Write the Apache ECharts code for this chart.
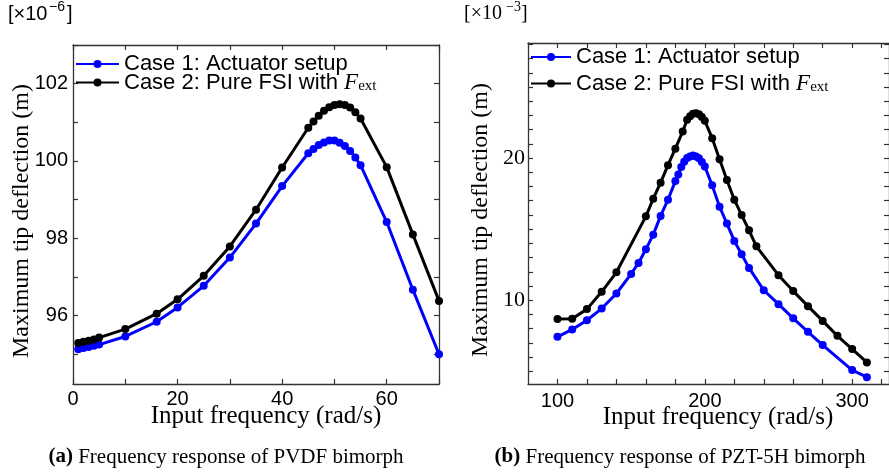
<!DOCTYPE html>
<html><head><meta charset="utf-8">
<script src="https://cdn.jsdelivr.net/npm/echarts@6/dist/echarts.min.js"></script>
<style>html,body{margin:0;padding:0;background:#fff}#c{width:889px;height:475px}</style>
</head><body><div id="c"></div>
<script>
// ---------- data ----------
const NAME1 = 'Case 1: Actuator setup';
const NAME2 = 'Case 2: Pure FSI with F_ext';

// (a) PVDF bimorph  [x1e-6 m]
const freqA  = [1,2,3,4,5,10,16,20,25,30,35,40,45,46,47,48,49,50,51,52,53,54,55,60,65,70];
const case1A = [95.13,95.16,95.19,95.22,95.25,95.46,95.84,96.21,96.77,97.50,98.38,99.35,
                100.20,100.31,100.41,100.48,100.53,100.53,100.47,100.39,100.26,100.09,99.89,
                98.42,96.67,95.00];
const case2A = [95.29,95.32,95.35,95.38,95.43,95.65,96.05,96.42,97.03,97.79,98.74,99.83,
                100.86,101.02,101.17,101.30,101.39,101.45,101.47,101.45,101.38,101.26,101.10,
                99.84,98.10,96.38];

// (b) PZT-5H bimorph  [x1e-3 m]
const freqB1 = [100,110,120,130,140,150,155,160,165,170,175,180,182,184,186,188,190,192,194,196,198,200,
                205,210,215,220,225,230,240,250,260,270,280,300,310];
const case1B = [7.42,7.94,8.59,9.41,10.47,11.85,12.62,13.58,14.61,15.93,17.07,18.38,
                18.85,19.37,19.75,20.00,20.12,20.18,20.12,19.98,19.72,19.40,
                18.08,16.58,15.39,14.17,13.23,12.27,10.70,9.72,8.72,7.77,6.84,5.08,4.58];
const freqB2 = [100,110,120,130,140,160,165,170,175,180,185,188,190,192,194,196,198,200,
                205,210,215,220,225,230,235,250,260,270,280,290,300,310];
const case2B = [8.67,8.70,9.37,10.59,11.96,15.90,17.14,18.27,19.50,20.66,21.87,
                22.70,22.95,23.12,23.16,23.08,22.90,22.62,
                21.40,19.92,18.46,17.07,15.99,14.92,13.79,11.76,10.64,9.58,8.54,7.49,6.56,5.62];

// ticks / labels
const ticksAx  = [0,10,20,30,40,50,60,70];
const labelsAx = [0,20,40,60];
const ticksAy  = [95,96,97,98,99,100,101,102,103];
const labelsAy = [96,98,100,102];
const ticksBx  = [100,120,140,160,180,200,220,240,260,280,300,320];
const labelsBx = [100,200,300];
const ticksBy  = [5,6,7,8,9,10,11,12,13,14,15,16,17,18,19,20,21,22,23,24,25,26,27,28];
const labelsBy = [10,20];

// ---------- chart ----------
const SANS = 'Liberation Sans';
const SERIF = 'Liberation Serif';
const FRAME = '#333';
const BLUE = '#0000ff', BLACK = '#000000';

function pairs(xs, ys){ return xs.map((x,i)=>[x, ys[i]]); }

function axisPair(kind, grid, min, max, ticks, labels, labelFont, labelSize, labelMargin){
  const base = {
    type:'value', gridIndex:grid, min:min, max:max, scale:true,
    splitLine:{show:false},
    axisLine:{show:true, onZero:false, lineStyle:{color:FRAME, width:1.3}},
    axisTick:{show:true, inside:true, length:5, customValues:ticks, lineStyle:{color:FRAME, width:1.2}},
  };
  const main = Object.assign({}, base, {
    position: kind==='x' ? 'bottom' : 'left',
    axisLabel:{show:true, customValues:labels, fontFamily:labelFont, fontSize:labelSize, color:'#000', margin:labelMargin}
  });
  const mirror = Object.assign({}, base, {
    position: kind==='x' ? 'top' : 'right',
    axisLabel:{show:false}
  });
  return [main, mirror];
}

const [xa0, xa1] = axisPair('x', 0, 0, 70, ticksAx, labelsAx, SANS, 20, 5);
const [ya0, ya1] = axisPair('y', 0, 94.23, 103.0, ticksAy, labelsAy, SANS, 20, 5);
const [xb0, xb1] = axisPair('x', 1, 80, 325, ticksBx, labelsBx, SANS, 20, 7);
const [yb0, yb1] = axisPair('y', 1, 4.1, 28.1, ticksBy, labelsBy, SERIF, 22, 3);

function lineSeries(name, color, xi, yi, data){
  return {name:name, type:'line', xAxisIndex:xi, yAxisIndex:yi, data:data,
    color:color, symbol:'circle', symbolSize:8, showSymbol:true,
    lineStyle:{color:color, width:3}, itemStyle:{color:color}, animation:false, clip:false};
}

const legendRich = {
  t:{fontFamily:SANS, fontSize:22, color:'#000', lineHeight:22},
  f:{fontFamily:SERIF, fontStyle:'italic', fontSize:23, color:'#000', lineHeight:22},
  s:{fontFamily:SERIF, fontSize:15, color:'#000', lineHeight:4, verticalAlign:'bottom'}
};
function legendFmt(n){ return n===NAME2 ? '{t|Case 2: Pure FSI with }{f|F}{s|ext}' : '{t|'+n+'}'; }

const option = {
  backgroundColor:'#fff',
  animation:false,
  grid:[
    {left:73, top:45, width:366, height:339},
    {left:528, top:43, width:362, height:341}
  ],
  xAxis:[xa0, xa1, xb0, xb1],
  yAxis:[ya0, ya1, yb0, yb1],
  legend:[
    {orient:'vertical', left:75, top:53, padding:0, itemWidth:43, itemHeight:10, itemGap:-4,
     data:[NAME1, NAME2], formatter:legendFmt, textStyle:{rich:legendRich}, selectedMode:false},
    {orient:'vertical', left:530, top:46, padding:0, itemWidth:40, itemHeight:10, itemGap:4,
     data:[NAME1, NAME2], formatter:legendFmt, textStyle:{rich:legendRich}, selectedMode:false}
  ],
  series:[
    lineSeries(NAME1, BLUE, 0, 0, pairs(freqA, case1A)),
    lineSeries(NAME2, BLACK, 0, 0, pairs(freqA, case2A)),
    lineSeries(NAME1, BLUE, 2, 2, pairs(freqB1, case1B)),
    lineSeries(NAME2, BLACK, 2, 2, pairs(freqB2, case2B))
  ],
  graphic:{elements:[
    // multipliers
    {type:'text', x:8, y:14, style:{text:'[×10', fontFamily:SANS, fontSize:20, fill:'#000', align:'left', verticalAlign:'middle'}},
    {type:'text', x:49, y:7, style:{text:'−6', fontFamily:SANS, fontSize:14, fill:'#000', align:'left', verticalAlign:'middle'}},
    {type:'text', x:67, y:14, style:{text:']', fontFamily:SANS, fontSize:20, fill:'#000', align:'left', verticalAlign:'middle'}},
    {type:'text', x:464, y:14, style:{text:'[×10', fontFamily:SERIF, fontSize:20, fill:'#000', align:'left', verticalAlign:'middle'}},
    {type:'text', x:506, y:7, style:{text:'−3', fontFamily:SERIF, fontSize:14, fill:'#000', align:'left', verticalAlign:'middle'}},
    {type:'text', x:521, y:14, style:{text:']', fontFamily:SERIF, fontSize:20, fill:'#000', align:'left', verticalAlign:'middle'}},
    // axis names
    {type:'text', x:266, y:416, style:{text:'Input frequency (rad/s)', fontFamily:SERIF, fontSize:25, fill:'#000', align:'center', verticalAlign:'middle'}},
    {type:'text', x:718, y:417, style:{text:'Input frequency (rad/s)', fontFamily:SERIF, fontSize:25, fill:'#000', align:'center', verticalAlign:'middle'}},
    {type:'text', x:22, y:221, rotation:Math.PI/2, style:{text:'Maximum tip deflection (m)', fontFamily:SERIF, fontSize:24, fill:'#000', align:'center', verticalAlign:'middle'}},
    {type:'text', x:481, y:220, rotation:Math.PI/2, style:{text:'Maximum tip deflection (m)', fontFamily:SERIF, fontSize:24, fill:'#000', align:'center', verticalAlign:'middle'}},
    // captions
    {type:'text', x:226, y:457, style:{text:'{b|(a)} Frequency response of PVDF bimorph', fontFamily:SERIF, fontSize:21, fill:'#000', align:'center', verticalAlign:'middle',
      rich:{b:{fontFamily:SERIF, fontSize:21, fontWeight:'bold', fill:'#000'}}}},
    {type:'text', x:680, y:457, style:{text:'{b|(b)} Frequency response of PZT-5H bimorph', fontFamily:SERIF, fontSize:21, fill:'#000', align:'center', verticalAlign:'middle',
      rich:{b:{fontFamily:SERIF, fontSize:21, fontWeight:'bold', fill:'#000'}}}}
  ]}
};

const chart = echarts.init(document.getElementById('c'), null, {renderer:'canvas'});
chart.setOption(option);
</script>
</body></html>
